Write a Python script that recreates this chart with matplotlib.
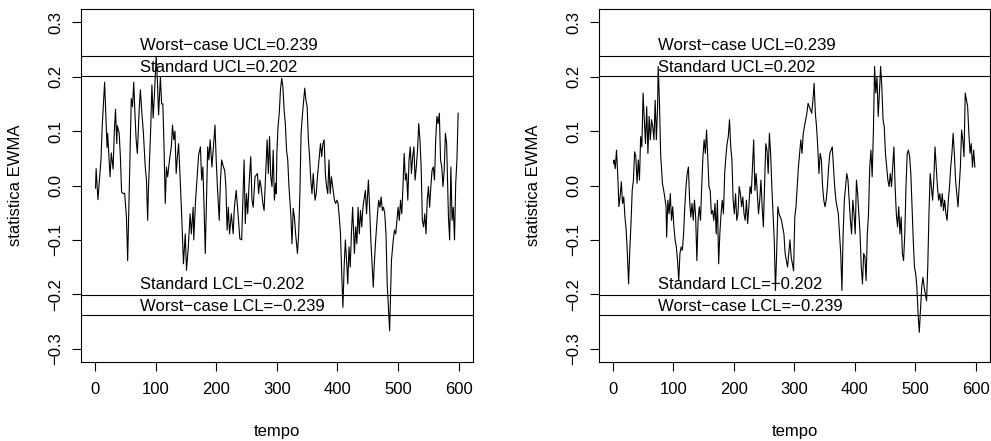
import numpy as np
import matplotlib
matplotlib.use("Agg")
import matplotlib.pyplot as plt

plt.rcParams['font.family'] = ['Liberation Sans', 'DejaVu Sans']

# control limits
ucl_std = 0.202
ucl_wc = 0.239

# series 1 (left panel)
t1 = [1, 2, 5, 10, 12, 16, 20, 21, 25, 27, 30, 32, 34, 36, 37, 40, 42, 44, 47, 49,
      52, 54, 59, 60, 62, 64, 66, 68, 70, 73, 75, 77, 80, 83, 85, 87, 88, 90, 92, 94,
      96, 98, 101, 103, 105, 108, 110, 112, 114, 116, 118, 120, 123, 126, 128, 130, 132, 134, 136, 138,
      140, 143, 146, 149, 151, 154, 157, 159, 162, 163, 166, 169, 171, 174, 176, 178, 180, 182, 184, 186,
      188, 190, 193, 198, 200, 202, 205, 207, 209, 212, 214, 216, 218, 220, 222, 225, 228, 230, 233, 236,
      239, 242, 244, 246, 248, 250, 252, 254, 257, 259, 261, 264, 268, 270, 272, 274, 277, 279, 282, 284,
      286, 288, 290, 292, 294, 296, 298, 299, 300, 302, 304, 306, 308, 310, 312, 314, 316, 318, 320, 323,
      325, 327, 329, 331, 334, 336, 338, 340, 342, 346, 348, 350, 352, 354, 356, 358, 360, 363, 365, 367,
      369, 372, 374, 376, 378, 380, 382, 384, 386, 388, 390, 393, 395, 397, 399, 401, 403, 405, 407, 409,
      411, 413, 415, 417, 419, 421, 423, 425, 428, 430, 432, 434, 436, 438, 440, 442, 446, 448, 451, 453,
      455, 459, 461, 463, 466, 468, 470, 472, 474, 476, 478, 480, 482, 484, 486, 487, 489, 492, 494, 496,
      498, 500, 502, 504, 506, 508, 510, 512, 514, 516, 518, 520, 522, 524, 526, 528, 530, 532, 534, 536,
      538, 540, 542, 544, 546, 548, 550, 552, 554, 556, 558, 560, 562, 564, 566, 568, 570, 572, 574, 576,
      578, 580, 583, 585, 587, 589, 591, 593, 595, 597, 599]
z1 = [-0.005, 0.031, -0.026, 0.047, 0.108, 0.190, 0.070, 0.096, 0.016, 0.060, 0.030, 0.100, 0.140, 0.077, 0.110, 0.096, 0.053, -0.012, -0.015, -0.014,
      -0.058, -0.138, 0.108, 0.160, 0.145, 0.190, 0.133, 0.084, 0.059, 0.140, 0.176, 0.140, 0.096, 0.034, 0.010, -0.064, -0.015, 0.047, 0.105, 0.185,
      0.124, 0.164, 0.237, 0.194, 0.130, 0.200, 0.150, 0.150, 0.071, -0.033, 0.034, 0.016, 0.047, 0.071, 0.111, 0.084, 0.100, 0.022, 0.053, 0.077,
      0.028, -0.052, -0.144, -0.089, -0.156, -0.113, -0.052, -0.089, -0.040, -0.100, -0.027, 0.022, 0.056, 0.071, 0.010, 0.034, -0.040, -0.125, -0.027, 0.071,
      0.047, 0.084, 0.034, 0.111, 0.047, -0.002, -0.064, 0.007, 0.047, 0.034, 0.028, -0.002, -0.082, -0.040, -0.089, -0.052, -0.089, -0.040, -0.009, -0.052,
      -0.098, -0.100, -0.027, 0.047, -0.070, -0.015, -0.052, -0.002, 0.053, -0.027, -0.040, 0.016, 0.022, -0.015, 0.010, -0.002, -0.033, -0.046, 0.034, 0.084,
      0.022, 0.090, 0.016, -0.002, 0.065, -0.027, 0.004, -0.015, 0.059, 0.108, 0.133, 0.176, 0.197, 0.182, 0.139, 0.114, 0.065, 0.047, -0.002, -0.052,
      -0.107, -0.042, -0.058, -0.089, -0.125, -0.089, -0.015, 0.096, 0.127, 0.179, 0.157, 0.145, 0.084, 0.053, 0.010, -0.015, 0.022, -0.027, -0.015, 0.016,
      0.041, 0.077, 0.053, 0.077, 0.084, 0.022, -0.002, -0.015, 0.047, -0.015, 0.016, -0.009, -0.027, -0.033, -0.027, -0.033, -0.058, -0.089, -0.162, -0.224,
      -0.150, -0.100, -0.138, -0.181, -0.113, -0.150, -0.089, -0.040, -0.125, -0.076, -0.107, -0.040, -0.089, -0.046, -0.076, -0.040, -0.009, -0.052, 0.010, -0.040,
      -0.100, -0.187, -0.138, -0.100, -0.052, -0.027, -0.040, -0.021, -0.046, -0.040, -0.052, -0.089, -0.181, -0.224, -0.267, -0.224, -0.138, -0.100, -0.082, -0.089,
      -0.064, -0.040, -0.064, -0.027, -0.052, -0.002, 0.059, 0.010, 0.022, -0.027, 0.047, 0.071, 0.022, 0.053, 0.071, 0.010, 0.034, 0.065, 0.114, 0.084,
      0.034, -0.064, -0.076, -0.052, -0.089, -0.027, -0.002, -0.040, -0.002, 0.028, 0.034, 0.010, 0.084, 0.127, 0.114, 0.133, 0.047, 0.034, -0.002, 0.028,
      0.096, 0.077, -0.058, -0.100, 0.034, -0.064, -0.040, -0.100, 0.004, 0.047, 0.133]

# series 2 (right panel)
t2 = [1, 2, 4, 6, 8, 10, 12, 14, 16, 18, 20, 22, 24, 26, 28, 30, 32, 34, 36, 38,
      40, 42, 44, 46, 48, 50, 52, 54, 56, 58, 60, 62, 64, 66, 68, 70, 72, 74, 75, 77,
      79, 82, 85, 88, 89, 91, 93, 95, 97, 99, 101, 103, 105, 107, 109, 111, 113, 115, 117, 119,
      121, 123, 125, 127, 129, 131, 133, 135, 137, 139, 141, 143, 145, 147, 149, 151, 153, 155, 157, 159,
      161, 163, 165, 167, 169, 171, 173, 175, 177, 179, 181, 183, 185, 187, 189, 191, 193, 195, 197, 199,
      201, 203, 205, 207, 209, 211, 213, 215, 217, 219, 221, 223, 225, 227, 229, 231, 233, 235, 237, 239,
      241, 243, 245, 247, 249, 251, 253, 255, 257, 259, 261, 263, 265, 267, 269, 271, 273, 275, 277, 279,
      281, 283, 285, 287, 289, 291, 293, 295, 297, 299, 301, 303, 305, 307, 309, 311, 313, 315, 317, 319,
      321, 323, 325, 327, 329, 331, 333, 335, 337, 339, 341, 343, 345, 347, 349, 351, 353, 355, 357, 359,
      361, 363, 365, 367, 369, 371, 373, 375, 377, 379, 381, 383, 385, 387, 389, 391, 393, 395, 397, 399,
      401, 403, 405, 407, 409, 411, 413, 415, 417, 419, 421, 423, 425, 427, 429, 431, 433, 435, 437, 439,
      441, 443, 445, 447, 449, 451, 453, 455, 457, 459, 461, 463, 465, 467, 469, 471, 473, 475, 477, 479,
      481, 483, 485, 487, 489, 491, 493, 495, 497, 499, 501, 503, 505, 507, 509, 511, 513, 515, 517, 519,
      521, 523, 525, 527, 529, 531, 533, 535, 537, 539, 541, 543, 545, 547, 549, 551, 553, 555, 557, 559,
      561, 563, 565, 567, 569, 571, 573, 575, 577, 579, 581, 583, 585, 587, 589, 591, 593, 595, 597, 599]
z2 = [0.041, 0.047, 0.031, 0.065, 0.022, -0.039, -0.021, 0.007, -0.033, -0.021, -0.058, -0.082, -0.125, -0.181, -0.119, -0.070, -0.009, 0.010, 0.062, 0.053,
      0.004, 0.047, 0.010, 0.090, 0.071, 0.170, 0.121, 0.077, 0.145, 0.059, 0.127, 0.084, 0.121, 0.108, 0.084, 0.157, 0.084, 0.145, 0.219, 0.157,
      0.059, 0.004, -0.015, -0.039, -0.095, -0.027, -0.052, -0.015, -0.064, -0.039, -0.076, -0.100, -0.113, -0.138, -0.175, -0.125, -0.113, -0.119, -0.089, -0.039,
      -0.002, 0.022, 0.034, -0.027, -0.058, -0.033, -0.064, -0.027, -0.058, -0.138, -0.064, -0.039, -0.064, -0.002, 0.053, 0.084, 0.059, 0.102, 0.053, -0.002,
      -0.009, -0.052, -0.046, -0.064, -0.033, -0.089, -0.027, -0.144, -0.089, -0.052, -0.027, -0.052, 0.022, 0.053, 0.077, 0.090, 0.121, 0.071, 0.047, -0.027,
      -0.052, -0.015, -0.064, -0.052, -0.002, -0.015, -0.039, -0.021, -0.052, -0.064, -0.027, -0.070, -0.039, -0.002, -0.015, 0.034, 0.084, -0.009, 0.022, -0.015,
      -0.052, -0.027, 0.010, -0.039, -0.076, -0.002, 0.077, 0.065, 0.022, 0.096, 0.059, -0.002, -0.052, -0.100, -0.193, -0.125, -0.039, -0.052, -0.058, -0.064,
      -0.076, -0.089, -0.125, -0.138, -0.150, -0.125, -0.100, -0.131, -0.144, -0.157, -0.058, -0.039, -0.002, 0.034, 0.059, 0.084, 0.059, 0.096, 0.108, 0.121,
      0.133, 0.151, 0.145, 0.139, 0.133, 0.157, 0.188, 0.133, 0.108, 0.071, 0.022, 0.059, 0.047, -0.002, -0.027, -0.039, -0.027, -0.002, 0.034, 0.059,
      0.065, 0.071, 0.034, -0.002, -0.027, -0.039, -0.052, -0.089, -0.125, -0.193, -0.089, -0.027, -0.002, 0.022, 0.010, -0.027, -0.064, -0.089, -0.027, -0.052,
      -0.089, 0.010, -0.015, -0.052, -0.089, -0.150, -0.181, -0.125, -0.131, -0.175, -0.089, -0.052, 0.034, 0.065, 0.016, 0.096, 0.219, 0.170, 0.200, 0.127,
      0.170, 0.219, 0.182, 0.121, 0.108, 0.059, 0.034, 0.010, -0.002, 0.022, -0.002, 0.034, 0.071, -0.002, -0.052, -0.076, -0.039, -0.089, -0.058, -0.125,
      -0.138, -0.089, -0.002, 0.059, 0.065, 0.053, 0.022, -0.039, -0.100, -0.150, -0.162, -0.187, -0.236, -0.270, -0.230, -0.187, -0.169, -0.187, -0.199, -0.212,
      -0.150, -0.052, 0.022, -0.002, -0.027, 0.010, 0.071, 0.034, -0.002, -0.027, -0.015, -0.039, -0.015, -0.046, -0.027, -0.052, -0.064, -0.027, -0.002, 0.034,
      0.059, 0.096, 0.059, 0.010, -0.015, -0.039, -0.002, 0.034, 0.102, 0.084, 0.053, 0.170, 0.157, 0.145, 0.096, 0.059, 0.077, 0.034, 0.065, 0.034]

xticks = [0, 100, 200, 300, 400, 500, 600]
yticks = [-0.3, -0.2, -0.1, 0.0, 0.1, 0.2, 0.3]
ytick_labels = ['\u22120.3', '\u22120.2', '\u22120.1', '0.0', '0.1', '0.2', '0.3']


def ewma_panel(ax, t, z):
    ax.plot(t, z, color='black', lw=0.8)
    for lim in [ucl_std, -ucl_std, ucl_wc, -ucl_wc]:
        ax.axhline(lim, color='black', lw=0.8)
    ax.text(75, 0.249, 'Worst\u2212case UCL=%.3f' % ucl_wc, fontsize=12)
    ax.text(75, 0.209, 'Standard UCL=%.3f' % ucl_std, fontsize=12)
    ax.text(75, -0.191, 'Standard LCL=\u2212%.3f' % ucl_std, fontsize=12)
    ax.text(75, -0.230, 'Worst\u2212case LCL=\u2212%.3f' % ucl_wc, fontsize=12)
    ax.set_xlim(1 - 24, 600 + 24)
    ax.set_ylim(-0.324, 0.324)
    ax.set_xticks(xticks)
    ax.set_xticklabels([str(x) for x in xticks])
    ax.set_yticks(yticks)
    ax.set_yticklabels(ytick_labels, rotation=90, va='center')
    ax.tick_params(direction='out', length=6.5, width=0.8, labelsize=12)
    ax.tick_params(axis='y', pad=6)
    ax.tick_params(axis='x', pad=8)
    for s in ax.spines.values():
        s.set_linewidth(0.8)
    ax.set_xlabel('tempo', fontsize=12)
    ax.set_ylabel('statistica EWMA', fontsize=12)
    ax.xaxis.set_label_coords(0.5, -0.197)
    ax.xaxis.label.set_va('center')
    ax.yaxis.set_label_coords(-0.168, 0.5)
    ax.yaxis.label.set_va('center')


fig = plt.figure(figsize=(9.91, 4.41), dpi=100)
ax1 = fig.add_axes([0.0817, 0.1798, 0.3959, 0.7991])
ax2 = fig.add_axes([0.6044, 0.1798, 0.3946, 0.7991])
ewma_panel(ax1, t1, z1)
ewma_panel(ax2, t2, z2)
fig.savefig('out.png', dpi=100)
